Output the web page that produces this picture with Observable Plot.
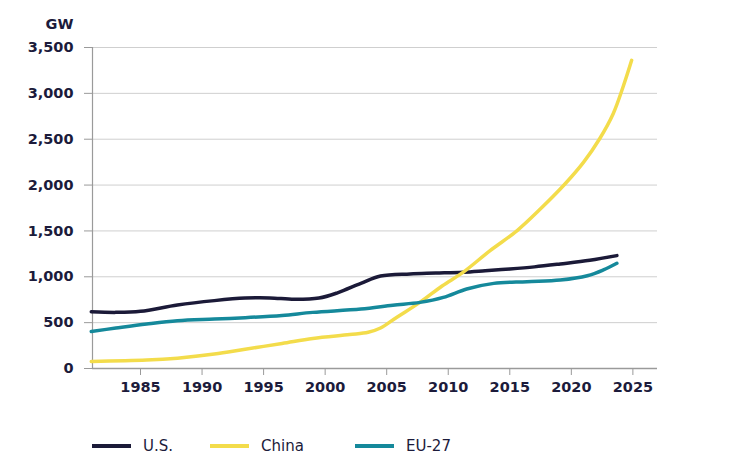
<!DOCTYPE html>
<html>
<head>
<meta charset="utf-8">
<script src="https://cdn.jsdelivr.net/npm/d3@7"></script>
<script src="https://cdn.jsdelivr.net/npm/@observablehq/plot@0.6"></script>
<style>
  html, body { margin: 0; padding: 0; background: #fff; }
  #chart { position: relative; width: 746px; }
  #legend { position: relative; width: 746px; height: 50px; font-family: "DejaVu Sans", sans-serif; font-size: 15px; color: #1c1b3b; }
  .sw { position: absolute; top: 34px; width: 39px; height: 4px; }
  .lb { position: absolute; top: 26px; line-height: 20px; }
</style>
</head>
<body>
<div id="chart"></div>
<div id="legend"></div>
<script>
const seriesNames = ["U.S.", "China", "EU-27"];
const seriesColors = ["#1b1a38", "#f3dc4b", "#15899b"];

const usYears  = [1981, 1983, 1985, 1988, 1991, 1993.5, 1995.5, 1997.5, 1999.5, 2001, 2002.9, 2004.5, 2006.9, 2009, 2011.2, 2013, 2015, 2017, 2019.1, 2021.5, 2023.7];
const usValues = [619, 612, 623, 692, 740, 768, 770, 754, 768, 825, 928, 1008, 1031, 1040, 1050, 1066, 1085, 1108, 1140, 1180, 1231];

const chinaYears  = [1981, 1985.5, 1988, 1991, 1993.5, 1996.5, 1999, 2002, 2003.5, 2004.5, 2005.8, 2007.7, 2009.5, 2011.2, 2013.4, 2015.6, 2017.5, 2019.5, 2021, 2022.3, 2023.4, 2024.2, 2024.9];
const chinaValues = [77, 92, 113, 157, 210, 273, 328, 370, 395, 441, 557, 721, 900, 1048, 1285, 1504, 1741, 2014, 2250, 2505, 2778, 3069, 3360];

const euYears  = [1981, 1983, 1985.5, 1988, 1991, 1993.5, 1996.5, 1999, 2002.9, 2005.5, 2007.7, 2009.6, 2011.5, 2013.7, 2016.4, 2019.1, 2021.3, 2022.6, 2023.7];
const euValues = [404, 441, 485, 521, 539, 554, 579, 612, 648, 690, 721, 775, 867, 928, 947, 965, 1012, 1075, 1147];

const xTicks = [1985, 1990, 1995, 2000, 2005, 2010, 2015, 2020, 2025];
const yTicks = [0, 500, 1000, 1500, 2000, 2500, 3000, 3500];
const unitLabel = "GW";

const build = (name, ys, vs) => ys.map((y, i) => ({series: name, year: y, value: vs[i]}));
const data = [
  ...build(seriesNames[0], usYears, usValues),
  ...build(seriesNames[1], chinaYears, chinaValues),
  ...build(seriesNames[2], euYears, euValues)
];

const textColor = "#1c1b3b";
const font = "DejaVu Sans, sans-serif";

const chart = Plot.plot({
  width: 746,
  height: 410,
  marginLeft: 92,
  marginRight: 89,
  marginTop: 47,
  marginBottom: 42,
  style: { fontFamily: font, fontSize: "14px", fontWeight: "bold", color: textColor, background: "#fff" },
  x: { domain: [1981.1, 2027], label: null },
  y: { domain: [0, 3500], label: null },
  color: { domain: seriesNames, range: seriesColors },
  marks: [
    Plot.gridY(yTicks.filter(d => d > 0), { stroke: "#cfcfcf", strokeOpacity: 1, strokeWidth: 1 }),
    Plot.ruleX([1981.1], { stroke: "#9a9a9a", strokeWidth: 1.2 }),
    Plot.ruleY([0], { stroke: "#9a9a9a", strokeWidth: 1.5 }),
    Plot.axisX({ ticks: xTicks, tickFormat: d => String(d), tickSize: 7, tickPadding: 6, stroke: "#9a9a9a", fill: textColor, fontSize: 14.5, fontWeight: "bold" }),
    Plot.axisY({ ticks: yTicks, tickFormat: d => d3.format(",")(d), tickSize: 8, tickPadding: 11, stroke: "#9a9a9a", fill: textColor, fontSize: 14.5, fontWeight: "bold" }),
    Plot.line(data, { x: "year", y: "value", z: "series", stroke: "series", strokeWidth: 3.5, curve: "catmull-rom" }),
    Plot.text([unitLabel], { frameAnchor: "top-left", dx: -19, dy: -23, textAnchor: "end", lineAnchor: "middle", fill: textColor, fontSize: 14.5, fontWeight: "bold" })
  ]
});
document.getElementById("chart").appendChild(chart);

const legend = document.getElementById("legend");
const swLeft = [92, 210, 355];
seriesNames.forEach((n, i) => {
  const s = document.createElement("div");
  s.className = "sw";
  s.style.left = swLeft[i] + "px";
  s.style.background = seriesColors[i];
  legend.appendChild(s);
  const l = document.createElement("div");
  l.className = "lb";
  l.style.left = (swLeft[i] + 51) + "px";
  l.textContent = n;
  legend.appendChild(l);
});
</script>
</body>
</html>
